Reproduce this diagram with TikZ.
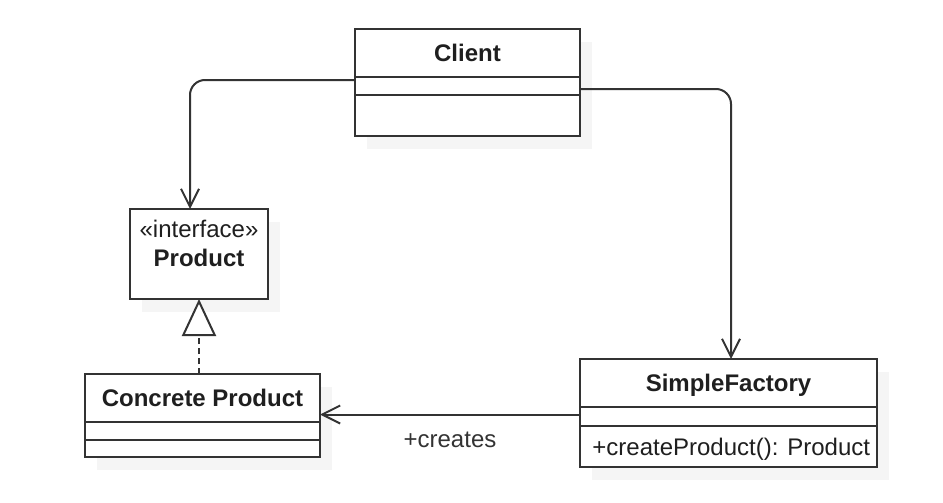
\documentclass[tikz,border=0pt]{standalone}
\usepackage{fontspec}
\setmainfont{Liberation Sans}
\usepackage{tikz}
\usetikzlibrary{arrows.meta,positioning,shadows}

\definecolor{umlline}{HTML}{333333}
\definecolor{umltext}{HTML}{1F1F1F}
\newcommand\umlfont{\fontsize{12}{14.5}\selectfont}

\tikzset{
  classbox/.style={draw=umlline, line width=1pt, fill=white, text=umltext,
    inner sep=0pt, outer sep=0pt, minimum width=#1,
    drop shadow={shadow xshift=6pt, shadow yshift=-6.5pt, fill=black!4, opacity=1}},
  titlebox/.style={classbox=#1, minimum height=24pt, font=\umlfont\bfseries,
    text height=8.6pt, text depth=0pt},
  assoc/.style={draw=umlline, line width=1pt, rounded corners=7.5pt,
    -{Straight Barb[length=9pt, width=9pt]}},
  realize/.style={draw=umlline, line width=1pt, dash pattern=on 3pt off 2pt,
    -{Triangle[open, length=18.5pt, width=17pt, fill=white]}},
}

\begin{document}
\begin{tikzpicture}[x=0.5pt, y=-0.5pt, font=\umlfont]
  \useasboundingbox (0,0) rectangle (943,503);

  % Client
  \node[titlebox=112.5pt] (client) at (467.5,53) {Client};
  \node[classbox=112.5pt, minimum height=9pt, below=0pt of client] (clientattr) {};
  \node[classbox=112.5pt, minimum height=20.5pt, below=0pt of clientattr] (clientops) {};

  % Product (interface)
  \node[classbox=69pt, minimum height=45pt] (product) at (199,254) {};
  \node[anchor=base, text=umltext] (stereotype) at (199,237) {«interface»};
  \node[anchor=base, text=umltext, font=\umlfont\bfseries] (productname) at (199,266) {Product};

  % Concrete Product
  \node[titlebox=117.5pt] (concrete) at (202.5,398) {Concrete Product};
  \node[classbox=117.5pt, minimum height=9pt, below=0pt of concrete] (concreteattr) {};
  \node[classbox=117.5pt, minimum height=8.5pt, below=0pt of concreteattr] (concreteops) {};

  % SimpleFactory
  \node[titlebox=148.5pt] (factory) at (728.5,383) {SimpleFactory};
  \node[classbox=148.5pt, minimum height=9.5pt, below=0pt of factory] (factoryattr) {};
  \node[classbox=148.5pt, minimum height=20.5pt, below=0pt of factoryattr] (factoryops) {};
  \node[anchor=west, inner sep=0pt, text=umltext, text height=8.6pt, text depth=0pt]
    (createop) at ([xshift=6pt]factoryops.west) {+createProduct(): Product};

  % relations
  \draw[assoc] ([yshift=3pt]clientattr.west) -| ([xshift=-4.5pt]product.north);
  \draw[assoc] ([yshift=-1.5pt]clientattr.east) -| ([xshift=1.25pt]factory.north);
  \draw[assoc] ([yshift=1pt]factoryattr.west) -- ([yshift=1pt]factoryattr.west -| concrete.east)
    node[midway, below=5pt, text=black!80] (createslbl) {+creates};
  \draw[realize] (concrete.north -| product.south) -- (product.south);
\end{tikzpicture}
\end{document}
